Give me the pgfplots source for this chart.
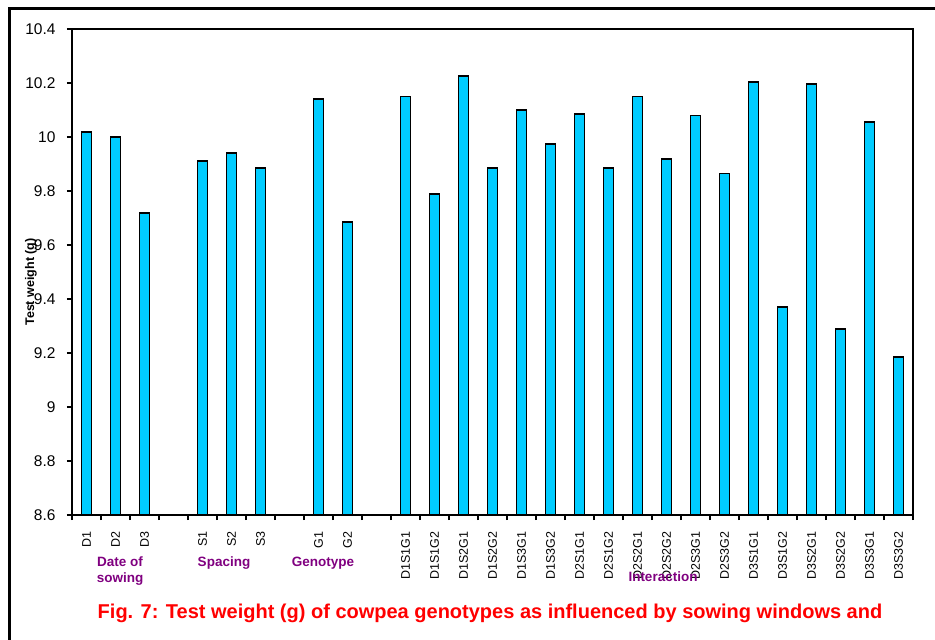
\documentclass[border=0pt]{standalone}
\usepackage{fontspec}
\setmainfont{Liberation Sans}
\usepackage{pgfplots}
\pgfplotsset{compat=1.18}
\definecolor{barcyan}{HTML}{00CCFF}
\definecolor{labpurple}{HTML}{800080}
\begin{document}
\begin{tikzpicture}[x=1pt,y=1pt]
\useasboundingbox (0,-640) rectangle (935,0);
\draw[line width=3pt] (9,-650) -- (9,-8) -- (945,-8);
\begin{axis}[
  at={(72pt,-515pt)}, anchor=south west,
  scale only axis, width=841pt, height=486pt,
  xmin=-0.5, xmax=28.5, ymin=8.6, ymax=10.4,
  ytick={8.6,8.8,9,9.2,9.4,9.6,9.8,10,10.2,10.4},
  xtick={-0.5,0.5,...,28.5}, xticklabels={},
  extra x ticks={0,1,2,4,5,6,8,9,11,12,13,14,15,16,17,18,19,20,21,22,23,24,25,26,27,28},
  extra x tick labels={D1,D2,D3,S1,S2,S3,G1,G2,D1S1G1,D1S1G2,D1S2G1,D1S2G2,D1S3G1,D1S3G2,D2S1G1,D2S1G2,D2S2G1,D2S2G2,D2S3G1,D2S3G2,D3S1G1,D3S1G2,D3S2G1,D3S2G2,D3S3G1,D3S3G2},
  extra x tick style={major tick length=0pt, tick label style={rotate=90, anchor=east, font=\fontsize{12.5}{12.5}\selectfont, xshift=-13pt}},
  tick align=outside, major tick length=5pt,
  xtick pos=bottom, ytick pos=left,
  axis line style={line width=2.5pt},
  tick style={line width=2pt, black},
  /pgf/number format/assume math mode=true,
  yticklabel style={font=\fontsize{15.5}{15.5}\selectfont, xshift=-8pt},
]
\addplot[ybar, bar width=10pt, fill=barcyan, draw=black, line width=1.8pt] coordinates {
(0,10.02) (1,10.00) (2,9.72)
(4,9.91) (5,9.94) (6,9.885)
(8,10.14) (9,9.685)
(11,10.15) (12,9.79) (13,10.225) (14,9.885) (15,10.10) (16,9.975)
(17,10.085) (18,9.885) (19,10.15) (20,9.92) (21,10.08) (22,9.865)
(23,10.205) (24,9.37) (25,10.195) (26,9.29) (27,10.055) (28,9.185)
};
\end{axis}
\node[rotate=90, font=\bfseries\fontsize{12.5}{12.5}\selectfont] at (31,-282) {Test weight (g)};
\node[font=\bfseries\fontsize{13.5}{16}\selectfont, text=labpurple, align=center] at (120,-571) {Date of\\sowing};
\node[font=\bfseries\fontsize{13.5}{16}\selectfont, text=labpurple] at (224,-563) {Spacing};
\node[font=\bfseries\fontsize{13.5}{16}\selectfont, text=labpurple] at (323,-563) {Genotype};
\node[font=\bfseries\fontsize{13.5}{16}\selectfont, text=labpurple] at (663,-577) {Interaction};
\node[font=\bfseries\fontsize{20}{20}\selectfont, text=red] at (490,-613) {Fig. 7: Test weight (g) of cowpea genotypes as influenced by sowing windows and};
\end{tikzpicture}
\end{document}
